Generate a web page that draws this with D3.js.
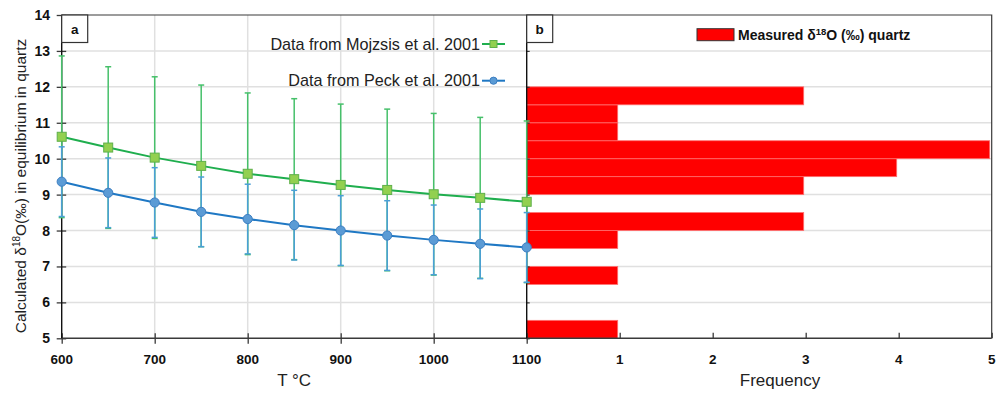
<!DOCTYPE html>
<html><head><meta charset="utf-8">
<script src="https://cdn.jsdelivr.net/npm/d3@7"></script>
<style>
html,body{margin:0;padding:0;background:#fff;}
svg{display:block;font-family:"Liberation Sans",Arial,sans-serif;}
</style></head>
<body>
<svg id="chart" width="997" height="394"></svg>
<script>
// ---- data ----
const temps = [600, 650, 700, 750, 800, 850, 900, 950, 1000, 1050, 1100];
const mojzsis = [10.61, 10.31, 10.03, 9.80, 9.58, 9.43, 9.27, 9.13, 9.01, 8.91, 8.80];
const mojzsisErr = [2.25, 2.25, 2.25, 2.25, 2.25, 2.24, 2.25, 2.25, 2.25, 2.24, 2.25];
const peck = [9.36, 9.05, 8.78, 8.52, 8.32, 8.15, 8.00, 7.86, 7.74, 7.63, 7.53];
const peckErr = [0.97, 0.97, 0.97, 0.97, 0.97, 0.97, 0.97, 0.97, 0.97, 0.97, 0.97];
const binLow = [5.0, 5.5, 6.0, 6.5, 7.0, 7.5, 8.0, 8.5, 9.0, 9.5, 10.0, 10.5, 11.0, 11.5];
const freq = [1, 0, 0, 1, 0, 1, 3, 0, 3, 4, 5, 1, 1, 3];
const binWidth = 0.5;
const xTicks = [600, 700, 800, 900, 1000, 1100];
const yTicks = [5, 6, 7, 8, 9, 10, 11, 12, 13, 14];
const fTicks = [1, 2, 3, 4, 5];

// ---- layout ----
const L = 61.7, M = 526.7, R = 991.7, T = 15, B = 338.3;
const svg = d3.select("#chart");
const x = d3.scaleLinear().domain([600, 1100]).range([L, M]);
const xf = d3.scaleLinear().domain([0, 5]).range([M, R]);
const y = d3.scaleLinear().domain([5, 14]).range([B, T]);

const gridC = "#e0e0e0", axisC = "#3a3a3a";
const gLine = "#1fae4e", gErr = "#46c06a", gFill = "#92d050", gStroke = "#5fb04a";
const bLine = "#1f78c4", bErr = "#4a9fd6", bFill = "#5b9bd5", bStroke = "#3d7fc2";

// gridlines
const grid = svg.append("g");
grid.selectAll("line.h").data(yTicks.filter(v => v > 5 && v < 14)).join("line")
  .attr("x1", L).attr("x2", R).attr("y1", d => y(d)).attr("y2", d => y(d))
  .attr("stroke", gridC).attr("stroke-width", 1.5);
grid.selectAll("line.v").data(xTicks.filter(v => v > 600 && v < 1100)).join("line")
  .attr("x1", d => x(d)).attr("x2", d => x(d)).attr("y1", T).attr("y2", B)
  .attr("stroke", gridC).attr("stroke-width", 1.5);

// histogram bars
svg.append("g").selectAll("rect").data(binLow.map((b, i) => ({b, f: freq[i]})).filter(d => d.f > 0)).join("rect")
  .attr("x", xf(0)).attr("width", d => xf(d.f) - xf(0) - 2)
  .attr("y", d => y(d.b + binWidth)).attr("height", d => y(d.b) - y(d.b + binWidth))
  .attr("fill", "#ff0000").attr("stroke", "#ff7070").attr("stroke-width", 0.8);

// axes panel a
const axA = svg.append("g").attr("transform", `translate(${L},0)`)
  .call(d3.axisLeft(y).tickValues(yTicks).tickSize(5).tickFormat(""));
axA.select(".domain").remove();
axA.selectAll(".tick line").attr("x2", -5).attr("x1", 4.5).attr("stroke", axisC).attr("stroke-width", 1.3);
const axX = svg.append("g").attr("transform", `translate(0,${B})`)
  .call(d3.axisBottom(x).tickValues(xTicks).tickSize(5).tickFormat(""));
axX.select(".domain").remove();
axX.selectAll(".tick line").attr("y1", -5).attr("y2", 5.5).attr("stroke", axisC).attr("stroke-width", 1.3);
const axF = svg.append("g").attr("transform", `translate(0,${B})`)
  .call(d3.axisBottom(xf).tickValues(fTicks).tickSize(-5.5).tickFormat(""));
axF.select(".domain").remove();
axF.selectAll(".tick line").attr("stroke", axisC).attr("stroke-width", 1.3);
const axB = svg.append("g").attr("transform", `translate(${M},0)`)
  .call(d3.axisRight(y).tickValues(yTicks).tickSize(3).tickFormat(""));
axB.select(".domain").remove();
axB.selectAll(".tick line").attr("stroke", axisC).attr("stroke-width", 1.2);

// frame lines
svg.append("path").attr("d", `M${L},${T}H${R}V${B}`).attr("fill", "none").attr("stroke", axisC).attr("stroke-width", 1.2);
svg.append("line").attr("x1", L).attr("x2", R).attr("y1", B).attr("y2", B).attr("stroke", axisC).attr("stroke-width", 1.4);
svg.append("line").attr("x1", L).attr("x2", L).attr("y1", T).attr("y2", B).attr("stroke", "#111").attr("stroke-width", 1.4);
svg.append("line").attr("x1", M).attr("x2", M).attr("y1", T).attr("y2", B).attr("stroke", "#111").attr("stroke-width", 1.4);

// tick labels
svg.append("g").selectAll("text").data(yTicks).join("text")
  .attr("x", 50).attr("y", d => y(d)).attr("dy", "0.36em").attr("text-anchor", "end")
  .attr("font-weight", "bold").attr("font-size", 14).attr("fill", "#111").text(d => d);
svg.append("g").selectAll("text").data(xTicks).join("text")
  .attr("x", d => x(d)).attr("y", 364).attr("text-anchor", "middle")
  .attr("font-weight", "bold").attr("font-size", 13.5).attr("fill", "#111").text(d => d);
svg.append("g").selectAll("text").data(fTicks).join("text")
  .attr("x", d => xf(d)).attr("y", 364).attr("text-anchor", "middle")
  .attr("font-weight", "bold").attr("font-size", 13.5).attr("fill", "#111").text(d => d);

// axis titles
svg.append("text").attr("x", (L + M) / 2).attr("y", 386).attr("text-anchor", "middle")
  .attr("font-size", 17).attr("fill", "#222").text("T °C");
svg.append("text").attr("x", 780).attr("y", 386).attr("text-anchor", "middle")
  .attr("font-size", 17).attr("fill", "#222").text("Frequency");
const yt = svg.append("text").attr("transform", "translate(26,186) rotate(-90)")
  .attr("text-anchor", "middle").attr("font-size", 15.5).attr("fill", "#222");
yt.append("tspan").text("Calculated δ");
yt.append("tspan").attr("font-size", 10).attr("dy", -6).text("18");
yt.append("tspan").attr("dy", 6).text("O(‰) in equilibrium in quartz");

// error bars + series
function series(vals, errs, lineC, errC, fill, stroke, shape) {
  const g = svg.append("g");
  const d = temps.map((t, i) => ({t, v: vals[i], e: errs[i]}));
  g.selectAll("line.eb").data(d).join("line")
    .attr("x1", p => x(p.t)).attr("x2", p => x(p.t))
    .attr("y1", p => y(p.v + p.e)).attr("y2", p => y(p.v - p.e))
    .attr("stroke", errC).attr("stroke-width", 1.5);
  ["+", "-"].forEach(s => {
    g.selectAll("line.cap" + (s === "+" ? "u" : "l")).data(d).join("line")
      .attr("x1", p => x(p.t) - 3).attr("x2", p => x(p.t) + 3)
      .attr("y1", p => y(s === "+" ? p.v + p.e : p.v - p.e))
      .attr("y2", p => y(s === "+" ? p.v + p.e : p.v - p.e))
      .attr("stroke", errC).attr("stroke-width", 1.5);
  });
  g.append("path").datum(d)
    .attr("d", d3.line().x(p => x(p.t)).y(p => y(p.v)))
    .attr("fill", "none").attr("stroke", lineC).attr("stroke-width", 2);
  if (shape === "square") {
    g.selectAll("rect").data(d).join("rect")
      .attr("x", p => x(p.t) - 4.5).attr("y", p => y(p.v) - 4.5).attr("width", 9).attr("height", 9)
      .attr("fill", fill).attr("stroke", stroke).attr("stroke-width", 1);
  } else {
    g.selectAll("circle").data(d).join("circle")
      .attr("cx", p => x(p.t)).attr("cy", p => y(p.v)).attr("r", 4.6)
      .attr("fill", fill).attr("stroke", stroke).attr("stroke-width", 1);
  }
}
series(mojzsis, mojzsisErr, gLine, gErr, gFill, gStroke, "square");
series(peck, peckErr, bLine, bErr, bFill, bStroke, "circle");

// legend panel a
const lg = svg.append("g");
lg.append("text").attr("x", 480).attr("y", 44).attr("dy", "0.35em").attr("text-anchor", "end")
  .attr("font-size", 16.2).attr("fill", "#222").text("Data from Mojzsis et al. 2001");
lg.append("line").attr("x1", 482).attr("x2", 505).attr("y1", 44).attr("y2", 44).attr("stroke", gLine).attr("stroke-width", 2);
lg.append("rect").attr("x", 490).attr("y", 40.5).attr("width", 7).attr("height", 7).attr("fill", gFill).attr("stroke", gStroke);
lg.append("text").attr("x", 480).attr("y", 80.7).attr("dy", "0.35em").attr("text-anchor", "end")
  .attr("font-size", 16.2).attr("fill", "#222").text("Data from Peck et al. 2001");
lg.append("line").attr("x1", 482).attr("x2", 505).attr("y1", 80.7).attr("y2", 80.7).attr("stroke", bLine).attr("stroke-width", 2);
lg.append("circle").attr("cx", 493.5).attr("cy", 80.7).attr("r", 3.6).attr("fill", bFill).attr("stroke", bStroke);

// legend panel b
svg.append("rect").attr("x", 697).attr("y", 28.7).attr("width", 37).attr("height", 12)
  .attr("fill", "#ff0000").attr("stroke", "#333").attr("stroke-width", 1);
const lb = svg.append("text").attr("x", 738).attr("y", 35).attr("dy", "0.35em")
  .attr("font-size", 14).attr("font-weight", "bold").attr("fill", "#111");
lb.append("tspan").text("Measured δ");
lb.append("tspan").attr("font-size", 9.5).attr("dy", -5).text("18");
lb.append("tspan").attr("dy", 5).text("O (‰) quartz");

// panel labels
[["a", L], ["b", M]].forEach(([t, x0]) => {
  svg.append("rect").attr("x", x0).attr("y", T).attr("width", 26).attr("height", 27.5)
    .attr("fill", "#fff").attr("stroke", "#333").attr("stroke-width", 1.2);
  svg.append("text").attr("x", x0 + 13).attr("y", T + 14).attr("dy", "0.35em").attr("text-anchor", "middle")
    .attr("font-size", 13.5).attr("font-weight", "bold").attr("fill", "#111").text(t);
});
</script>
</body></html>
